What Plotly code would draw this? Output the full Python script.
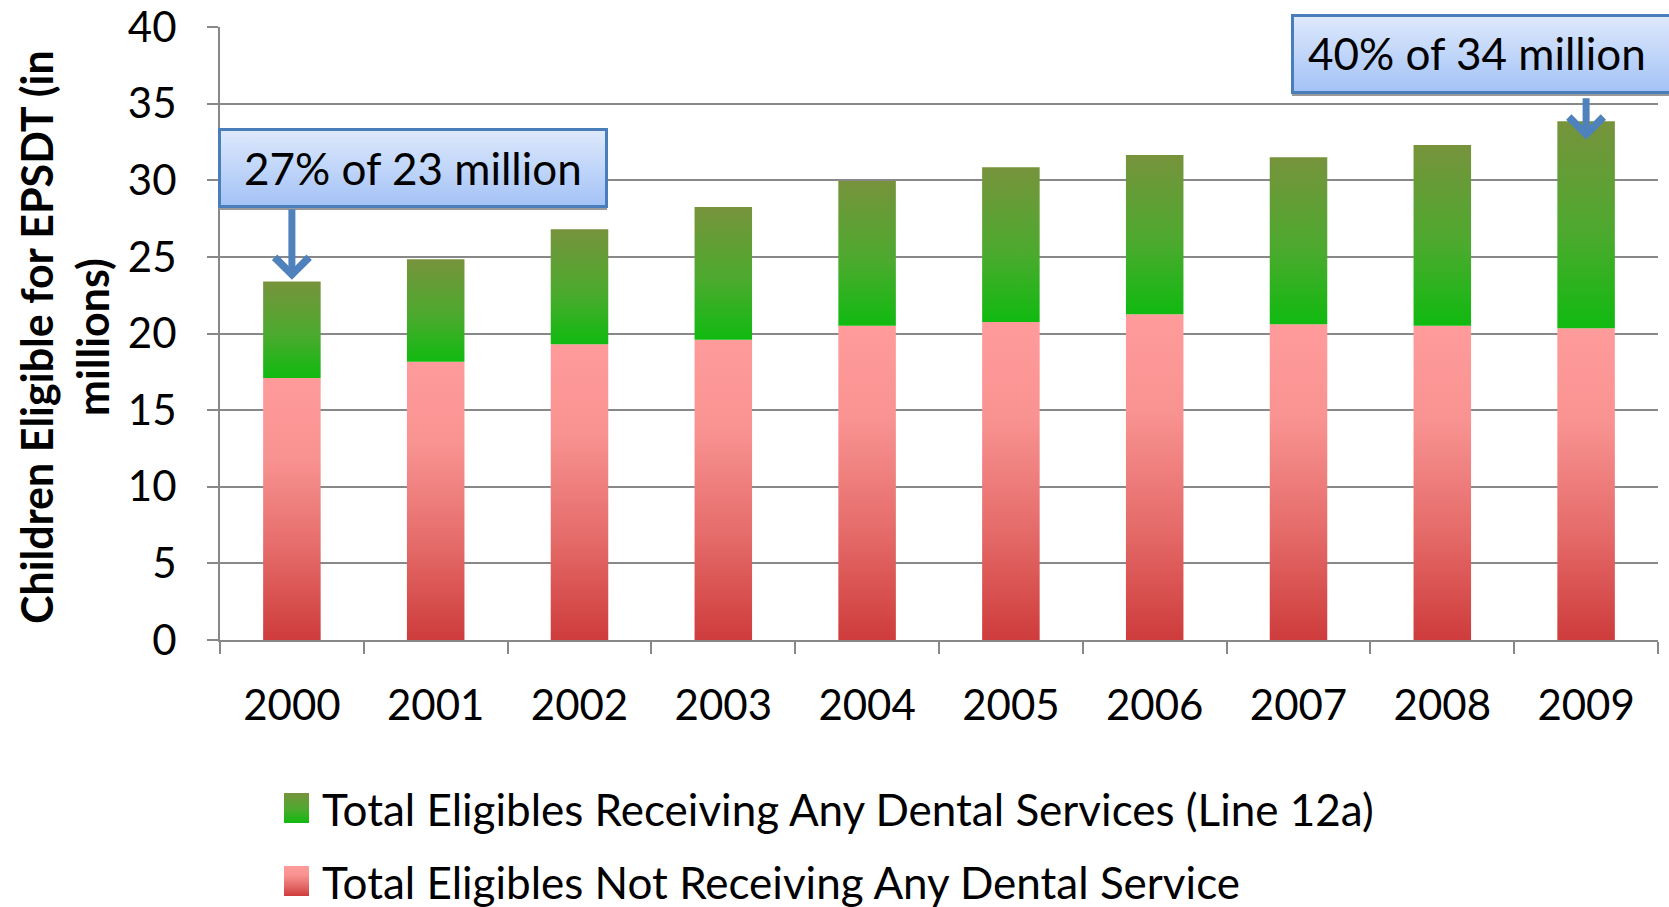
import base64
import plotly.graph_objects as go

# EPSDT eligibles (millions) by fiscal year
years = ["2000", "2001", "2002", "2003", "2004", "2005", "2006", "2007", "2008", "2009"]
not_receiving = [17.1, 18.15, 19.3, 19.6, 20.5, 20.75, 21.25, 20.6, 20.5, 20.35]
receiving = [6.3, 6.7, 7.5, 8.65, 9.45, 10.1, 10.4, 10.9, 11.8, 13.5]

series_names = [
    "Total Eligibles Receiving Any Dental Services (Line 12a)",
    "Total Eligibles Not Receiving Any Dental Service",
]
callouts = ["27% of 23 million", "40% of 34 million"]
callout_years = [0, 9]

FONT = "Lato"
RED_SCALE = [[0, "#CE3C3C"], [0.35, "#E56C6A"], [0.7, "#F89391"], [1, "#FF9B9B"]]
GREEN_SCALE = [[0, "#10BA10"], [0.45, "#4CAA2E"], [1, "#77933C"]]
HALF_W = 0.2

fig = go.Figure()


def add_segment(i, base, top, scale):
    xs = [i - HALF_W, i + HALF_W, i + HALF_W, i - HALF_W, i - HALF_W]
    ys = [base, base, top, top, base]
    fig.add_trace(go.Scatter(
        x=xs, y=ys, mode="none", fill="toself",
        fillgradient=dict(type="vertical", colorscale=scale, start=base, stop=top),
        showlegend=False, hoverinfo="skip",
    ))


for i in range(len(years)):
    add_segment(i, 0, not_receiving[i], RED_SCALE)
    add_segment(i, not_receiving[i], not_receiving[i] + receiving[i], GREEN_SCALE)


def svg_uri(svg):
    return "data:image/svg+xml;base64," + base64.b64encode(svg.encode()).decode()


def box_svg(w, h):
    return (
        f"<svg xmlns='http://www.w3.org/2000/svg' width='{w}' height='{h}' viewBox='0 0 {w} {h}' preserveAspectRatio='none'>"
        "<defs><linearGradient id='g' x1='0' y1='0' x2='0' y2='1'>"
        "<stop offset='0' stop-color='#DEE9FC'/><stop offset='1' stop-color='#A3C2F6'/>"
        "</linearGradient></defs>"
        f"<rect x='1' y='{h-5}' width='{w-2}' height='4' fill='#9A9A9A'/>"
        f"<rect x='1.5' y='1.5' width='{w-3}' height='{h-6}' fill='url(#g)' stroke='#4A7EBB' stroke-width='3'/>"
        "</svg>"
    )


def swatch_svg(stops):
    st = "".join(f"<stop offset='{1-p}' stop-color='{c}'/>" for p, c in reversed(stops))
    return (
        "<svg xmlns='http://www.w3.org/2000/svg' width='25' height='30' viewBox='0 0 25 30' preserveAspectRatio='none'>"
        f"<defs><linearGradient id='g' x1='0' y1='0' x2='0' y2='1'>{st}</linearGradient></defs>"
        "<rect x='0' y='0' width='25' height='30' fill='url(#g)'/></svg>"
    )


# pixel -> paper helpers for layout decorations
L, R, T, B = 220, 11, 27, 267
W, H = 1669, 907
PW, PH = W - L - R, H - T - B


def px(xp):
    return (xp - L) / PW


def py(yp):
    return (H - B - yp) / PH


images = []
annotations = []

# callout boxes
boxes = [(218, 128, 608, 211), (1291, 14, 1690, 97)]
for (x0, y0, x1, y1), text in zip(boxes, callouts):
    images.append(dict(source=svg_uri(box_svg(x1 - x0, y1 - y0)), xref="paper", yref="paper",
                       x=px(x0), y=py(y0), sizex=px(x1) - px(x0), sizey=py(y0) - py(y1),
                       sizing="stretch", layer="above", xanchor="left", yanchor="top"))
    cx = (x0 + min(x1, W - 6)) / 2 if x1 > W else (x0 + x1) / 2
    annotations.append(dict(text=text, xref="paper", yref="paper", x=px(cx), y=py((y0 + y1 - 4) / 2),
                            showarrow=False, xanchor="center", yanchor="middle",
                            font=dict(family=FONT, size=44, color="black")))

# arrows from callouts down to the bar tops
arrow_tails = [28.2, 35.45]
for idx, tail in zip(callout_years, arrow_tails):
    total = not_receiving[idx] + receiving[idx]
    head = total + 0.1 if idx == 0 else total - 1.2
    annotations.append(dict(text="", x=idx, y=head, ax=idx, ay=tail, xref="x", yref="y",
                            axref="x", ayref="y", showarrow=True, arrowhead=4, arrowsize=0.95,
                            arrowwidth=7, arrowcolor="#4F81BD", standoff=0, startstandoff=0))

# y-axis title
annotations.append(dict(text="Children Eligible for EPSDT (in<br>millions)", xref="paper", yref="paper",
                        x=px(64), y=py(337), textangle=-90, showarrow=False,
                        xanchor="center", yanchor="middle",
                        font=dict(family=FONT, size=43, color="black", weight="bold")))

# legend
legend_rows = [(793, series_names[0], GREEN_SCALE), (866, series_names[1], RED_SCALE)]
for top, name, scale in legend_rows:
    images.append(dict(source=svg_uri(swatch_svg(scale)), xref="paper", yref="paper",
                       x=px(284), y=py(top), sizex=25 / PW, sizey=30 / PH,
                       sizing="stretch", layer="above", xanchor="left", yanchor="top"))
    annotations.append(dict(text=name, xref="paper", yref="paper", x=px(320), y=py(top + 16),
                            showarrow=False, xanchor="left", yanchor="middle",
                            font=dict(family=FONT, size=44, color="black")))

GRID = "#888888"
fig.update_layout(
    width=W, height=H,
    margin=dict(l=L, r=R, t=T, b=B, autoexpand=False),
    paper_bgcolor="white", plot_bgcolor="white",
    showlegend=False,
    font=dict(family=FONT, color="black"),
    xaxis=dict(
        range=[-0.5, 9.5], tickmode="array", tickvals=list(range(len(years))), ticktext=years,
        ticks="", showgrid=False, zeroline=False, showline=True, linecolor=GRID, linewidth=2,
        automargin=False,
        tickfont=dict(family=FONT, size=42, color="black"), ticklabelstandoff=28,
        minor=dict(tickmode="array", tickvals=[k - 0.5 for k in range(len(years) + 1)],
                   ticks="outside", ticklen=12, tickcolor=GRID, tickwidth=2, showgrid=False),
    ),
    yaxis=dict(
        range=[0, 40], dtick=5, tick0=0, showgrid=True, gridcolor=GRID, gridwidth=2,
        zeroline=False, showline=True, linecolor=GRID, linewidth=2, automargin=False,
        ticks="outside", ticklen=11, tickcolor=GRID, tickwidth=2,
        tickfont=dict(family=FONT, size=42, color="black"), ticklabelstandoff=22,
    ),
    images=images,
    annotations=annotations,
)

fig.write_html("out.html")
